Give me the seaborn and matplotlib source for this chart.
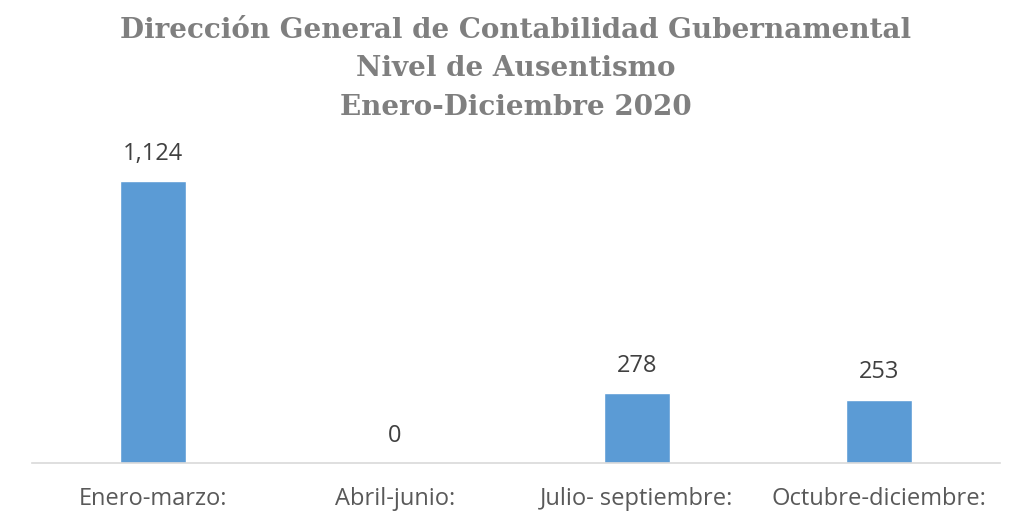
import matplotlib
matplotlib.use("Agg")
import matplotlib.pyplot as plt
import seaborn as sns
import pandas as pd

categorias = ["Enero-marzo:", "Abril-junio:", "Julio- septiembre:", "Octubre-diciembre:"]
ausencias = [1124, 0, 278, 253]
titulo = "Dirección General de Contabilidad Gubernamental\nNivel de Ausentismo\nEnero-Diciembre 2020"

df = pd.DataFrame({"periodo": categorias, "valor": ausencias})

sns.set_style("white")
plt.rcParams['font.family'] = ['Open Sans', 'DejaVu Sans']

fig = plt.figure(figsize=(10.15, 5.23), dpi=100)
ax = fig.add_axes([32 / 1015, 60 / 523, 968 / 1015, 323 / 523])

sns.barplot(data=df, x="periodo", y="valor", color="#5b9bd5", width=0.27,
            saturation=1, ax=ax)
ax.set_ylim(0, 1287)
ax.set_xlim(-0.5, 3.5)

for i, v in enumerate(ausencias):
    ax.annotate("{:,}".format(v), (i, v), xytext=(0, 11), textcoords="offset points",
                ha="center", va="bottom", fontsize=17, color="#404040")

ax.set_xlabel("")
ax.set_ylabel("")
ax.set_yticks([])
ax.tick_params(axis="x", length=0, pad=17, labelsize=17, labelcolor="#595959")
for s in ["top", "right", "left"]:
    ax.spines[s].set_visible(False)
ax.spines["bottom"].set_color("#d9d9d9")
ax.spines["bottom"].set_linewidth(1.2)

fig.text(0.508, 0.968, titulo, ha="center", va="top", fontsize=20, fontweight="bold",
         color="#7f7f7f", family="DejaVu Serif", linespacing=1.55)

fig.savefig("out.png", dpi=100)
